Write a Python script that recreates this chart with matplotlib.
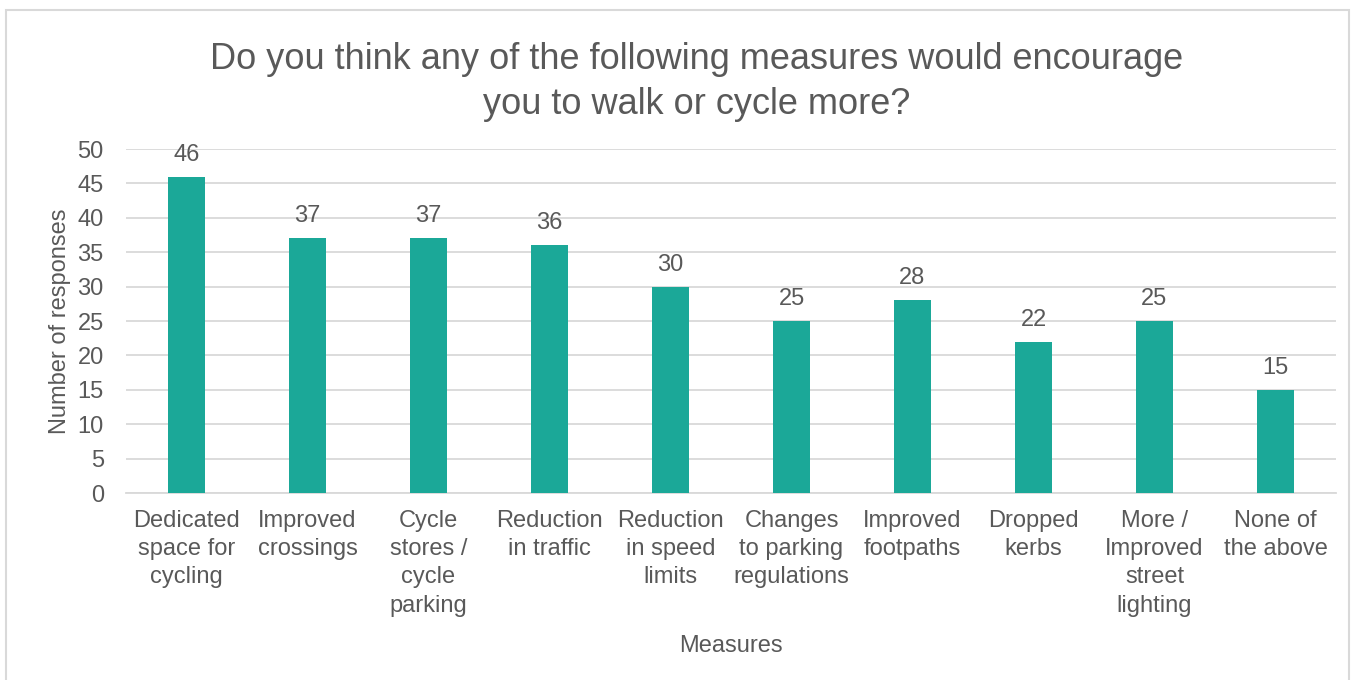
import matplotlib.pyplot as plt
from matplotlib.patches import Rectangle

# data
measures = ["Dedicated\nspace for\ncycling", "Improved\ncrossings",
            "Cycle\nstores /\ncycle\nparking", "Reduction\nin traffic",
            "Reduction\nin speed\nlimits", "Changes\nto parking\nregulations",
            "Improved\nfootpaths", "Dropped\nkerbs",
            "More /\nImproved\nstreet\nlighting", "None of\nthe above"]
responses = [46, 37, 37, 36, 30, 25, 28, 22, 25, 15]
y_ticks = [0, 5, 10, 15, 20, 25, 30, 35, 40, 45, 50]

text_col = '#595959'
bar_col = '#1BA898'
grid_col = '#D9D9D9'
fs = 17

plt.rcParams['font.family'] = ['Liberation Sans', 'DejaVu Sans']

fig = plt.figure(figsize=(13.55, 6.8), dpi=100)
ax = fig.add_axes([126 / 1355, 187 / 680, 1210 / 1355, 344 / 680])

# chart border
fig.patches.append(Rectangle((6 / 1355, -0.01), 1343 / 1355, 670 / 680 + 0.01,
                             transform=fig.transFigure, fill=False,
                             edgecolor=grid_col, linewidth=1.5))

x = range(len(measures))
ax.bar(x, responses, width=0.31, color=bar_col, zorder=3)
for xi, v in zip(x, responses):
    ax.text(xi, v + 3.2, str(v), ha='center', va='center', fontsize=fs, color=text_col)

ax.set_xlim(-0.5, len(measures) - 0.5)
ax.set_ylim(0, 50)
ax.set_yticks(y_ticks)
ax.set_xticks(list(x))
ax.set_xticklabels(measures, fontsize=fs, color=text_col, linespacing=1.37)
ax.tick_params(axis='y', labelsize=fs, labelcolor=text_col, length=0, pad=16)
ax.tick_params(axis='x', length=0, pad=12)
ax.grid(axis='y', color=grid_col, linewidth=1.3, zorder=0)
for s in ['top', 'right', 'left']:
    ax.spines[s].set_visible(False)
ax.spines['bottom'].set_color(grid_col)
ax.spines['bottom'].set_linewidth(1.3)

ax.set_ylabel('Number of responses', fontsize=fs, color=text_col, labelpad=5)
ax.set_xlabel('Measures', fontsize=fs, color=text_col, labelpad=13)

fig.text(0.514, 1 - 82 / 680, 'Do you think any of the following measures would encourage\nyou to walk or cycle more?',
         ha='center', va='center', fontsize=26, color=text_col, linespacing=1.4)

fig.savefig('out.png', dpi=100)
